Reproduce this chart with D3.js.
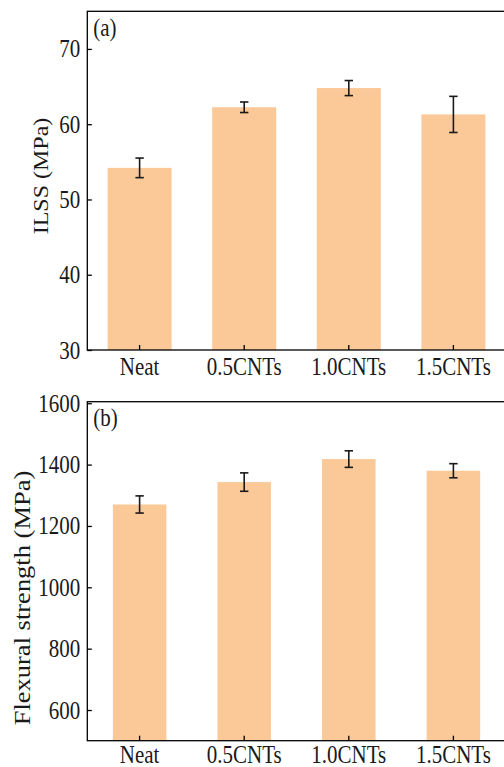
<!DOCTYPE html>
<html>
<head>
<meta charset="utf-8">
<script src="https://cdn.jsdelivr.net/npm/d3@7"></script>
<style>
  html, body { margin: 0; padding: 0; background: #fff; }
  svg { display: block; }
  text { font-family: "Liberation Serif", "Times New Roman", serif; fill: #1a1a1a; }
</style>
</head>
<body>
<svg id="chart" width="504" height="767"></svg>
<script>
const categories = ["Neat", "0.5CNTs", "1.0CNTs", "1.5CNTs"];
const ilssValues = [54.2, 62.25, 64.8, 61.3];
const ilssErrors = [1.3, 0.7, 1.0, 2.4];
const flexValues = [1270, 1343, 1418, 1380];
const flexErrors = [28, 30, 27, 23];
const ilssTicks = [30, 40, 50, 60, 70];
const flexTicks = [600, 800, 1000, 1200, 1400, 1600];

const svg = d3.select("#chart");
const SX = 0.84;               // horizontal squeeze of the glyphs in the reference
const barColor = "#fbc897";
const left = 87.3, right = 505.7;

function panel(cfg) {
  const g = svg.append("g");
  const y = d3.scaleLinear().domain(cfg.domain).range([cfg.bottom, cfg.top]);
  const xc = d3.scaleBand().domain(categories).range([left, right]);
  const center = c => xc(c) + xc.bandwidth() / 2;
  const bw = cfg.barWidth;

  // bars
  g.selectAll("rect.bar").data(categories).enter().append("rect")
    .attr("x", d => center(d) - bw / 2)
    .attr("width", bw)
    .attr("y", (d, i) => y(cfg.values[i]))
    .attr("height", (d, i) => y(cfg.domain[0]) - y(cfg.values[i]))
    .attr("fill", barColor);

  // error bars
  const eb = g.selectAll("g.err").data(categories).enter().append("g")
    .attr("stroke", "#1a1a1a").attr("stroke-width", 1.6);
  eb.append("line")
    .attr("x1", d => center(d)).attr("x2", d => center(d))
    .attr("y1", (d, i) => y(cfg.values[i] + cfg.errors[i]))
    .attr("y2", (d, i) => y(cfg.values[i] - cfg.errors[i]));
  [1, -1].forEach(s => {
    eb.append("line")
      .attr("x1", d => center(d) - 4.2).attr("x2", d => center(d) + 4.2)
      .attr("y1", (d, i) => y(cfg.values[i] + s * cfg.errors[i]))
      .attr("y2", (d, i) => y(cfg.values[i] + s * cfg.errors[i]));
  });

  // frame
  g.append("rect")
    .attr("x", left).attr("y", cfg.top)
    .attr("width", right - left).attr("height", cfg.bottom - cfg.top)
    .attr("fill", "none").attr("stroke", "#000").attr("stroke-width", 1.3);

  // y axis ticks (inward) and labels
  const yAxis = d3.axisLeft(y).tickValues(cfg.ticks).tickSizeInner(-4.5).tickSizeOuter(0).tickFormat(d3.format("d"));
  const ya = g.append("g").attr("transform", `translate(${left},0)`).call(yAxis);
  ya.select(".domain").remove();
  ya.selectAll(".tick line").attr("stroke", "#000").attr("stroke-width", 1.3);
  ya.selectAll(".tick text").remove();
  g.selectAll("text.ytl").data(cfg.ticks).enter().append("text")
    .attr("transform", d => `translate(${left - 7},${y(d) + 8.5}) scale(${SX},1)`)
    .attr("text-anchor", "end").attr("font-size", 25).text(d => d);

  // x axis ticks (inward) and labels
  const xAxis = d3.axisBottom(xc).tickSizeInner(-5).tickSizeOuter(0);
  const xa = g.append("g").attr("transform", `translate(0,${cfg.bottom})`).call(xAxis);
  xa.select(".domain").remove();
  xa.selectAll(".tick line").attr("stroke", "#000").attr("stroke-width", 1.3);
  xa.selectAll(".tick text").remove();
  g.selectAll("text.xtl").data(categories).enter().append("text")
    .attr("transform", d => `translate(${center(d)},${cfg.bottom + cfg.xLabelDy}) scale(${SX},1)`)
    .attr("text-anchor", "middle").attr("font-size", 25).text(d => d);

  // y title
  g.append("text")
    .attr("transform", `translate(${cfg.titleX},${cfg.titleY}) scale(${SX},1) rotate(-90)`)
    .attr("text-anchor", "middle").attr("font-size", cfg.titleSize).text(cfg.title);

  // panel letter
  g.append("text")
    .attr("transform", `translate(${left + 6},${cfg.top + 24.5}) scale(${SX},1)`)
    .attr("font-size", 25).text(cfg.letter);
}

panel({
  values: ilssValues, errors: ilssErrors, domain: [30, 75], ticks: ilssTicks,
  top: 11.3, bottom: 350, pad: 0.39, barWidth: 64, xLabelDy: 24.5,
  title: "ILSS (MPa)", titleX: 48, titleY: 176, titleSize: 24, letter: "(a)"
});
panel({
  values: flexValues, errors: flexErrors, domain: [500, 1605], ticks: flexTicks,
  top: 401.7, bottom: 740.7, pad: 0.49, barWidth: 53.5, xLabelDy: 22.5,
  title: "Flexural strength (MPa)", titleX: 30, titleY: 598, titleSize: 26.5, letter: "(b)"
});
</script>
</body>
</html>
